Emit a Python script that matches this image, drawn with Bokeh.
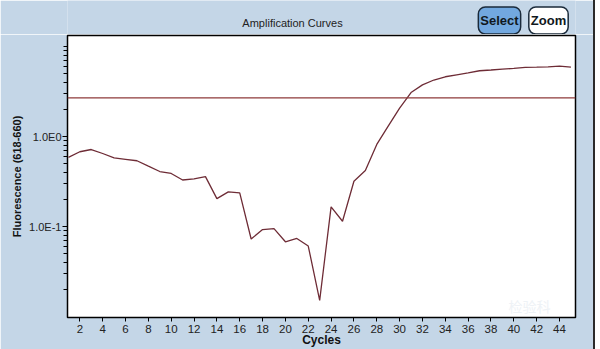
from bokeh.plotting import figure
from bokeh.layouts import column
from bokeh.models import Range1d, FixedTicker, CustomJSTickFormatter, Label, Span
from bokeh.embed import file_html
from bokeh.resources import INLINE

cycles = list(range(1, 46))
fluorescence = [0.59, 0.68, 0.72, 0.65, 0.58, 0.56, 0.54, 0.47, 0.41, 0.39,
                0.33, 0.34, 0.36, 0.205, 0.244, 0.238, 0.073, 0.093, 0.095, 0.068,
                0.074, 0.061, 0.0152, 0.166, 0.115, 0.32, 0.42, 0.82, 1.31, 2.08,
                3.09, 3.76, 4.26, 4.63, 4.87, 5.1, 5.4, 5.5, 5.63, 5.73,
                5.88, 5.92, 5.97, 6.07, 5.92]
threshold = 2.7
x_ticks = list(range(2, 45, 2))
y_major = [0.1, 1.0]
y_minor = [0.02, 0.03, 0.04, 0.05, 0.06, 0.07, 0.08, 0.09,
           0.2, 0.3, 0.4, 0.5, 0.6, 0.7, 0.8, 0.9,
           2, 3, 4, 5, 6, 7, 8, 9, 10]

BG = "#C4D6E7"
W = 595
FRAME_L, FRAME_R = 67, 575
HEAD_H = 34
MAIN_H = 315
EDGE = {"border-right": "2px solid #2a2a2a"}

# ---- header strip with title and buttons (its frame is aligned with the chart's) ----
head = figure(width=W, height=HEAD_H, x_range=Range1d(FRAME_L, FRAME_R),
              y_range=Range1d(0, HEAD_H),
              output_backend="svg", toolbar_location=None,
              min_border=0, min_border_left=FRAME_L, min_border_right=W - FRAME_R,
              min_border_top=0, min_border_bottom=0)
head.axis.visible = False
head.grid.visible = False
head.outline_line_color = None
head.background_fill_color = BG
head.border_fill_color = BG
head.styles = EDGE

def hlab(px, py, text, **kw):
    head.add_layout(Label(x=px, y=HEAD_H - py, text=text, text_align="center",
                          text_baseline="middle", **kw))

hlab(292, 22, "Amplification Curves", text_font="Liberation Sans",
     text_font_size="11px", text_color="#222222")
btn = dict(text_font="Liberation Sans", text_font_size="13px", text_font_style="bold",
           text_color="#101820", border_line_color="#1A2A3A", border_line_width=1.5,
           padding=dict(left=2, right=2, top=6, bottom=6), border_radius=7)
hlab(499, 20, "Select", background_fill_color="#72A8DF", **btn)
hlab(548, 20, "Zoom", background_fill_color="white", **btn)

# ---- main chart ----
p = figure(width=W, height=MAIN_H, y_axis_type="log",
           x_range=Range1d(0.92, 45.4), y_range=Range1d(0.0098, 13.3),
           output_backend="svg", toolbar_location=None,
           min_border_left=FRAME_L, min_border_right=W - FRAME_R,
           min_border_top=1, min_border_bottom=29)
p.styles = EDGE
p.border_fill_color = BG
p.background_fill_color = "white"
p.outline_line_color = "black"
p.outline_line_width = 1.5
p.grid.visible = False

p.xaxis.ticker = FixedTicker(ticks=x_ticks)
p.xaxis.major_tick_out = 4
p.xaxis.major_tick_in = 0
p.xaxis.minor_tick_out = 0
p.xaxis.axis_line_color = None
p.xaxis.major_label_standoff = 3
p.xaxis.major_label_text_font = "Liberation Sans"
p.xaxis.major_label_text_font_size = "11.5px"
p.xaxis.major_label_text_color = "#222222"
p.xaxis.axis_label = "Cycles"
p.xaxis.axis_label_standoff = -3
p.xaxis.axis_label_text_font = "Liberation Sans"
p.xaxis.axis_label_text_font_size = "12px"
p.xaxis.axis_label_text_font_style = "bold"
p.xaxis.axis_label_text_color = "#111111"

p.yaxis.ticker = FixedTicker(ticks=y_major, minor_ticks=y_minor)
p.yaxis.formatter = CustomJSTickFormatter(code="return '1.0E' + Math.round(Math.log10(tick));")
p.yaxis.major_tick_out = 5
p.yaxis.major_tick_in = 0
p.yaxis.minor_tick_out = 4
p.yaxis.minor_tick_in = 0
p.yaxis.axis_line_color = None
p.yaxis.major_label_standoff = 1
p.yaxis.major_label_text_font = "Liberation Sans"
p.yaxis.major_label_text_font_size = "11px"
p.yaxis.major_label_text_color = "#222222"
p.yaxis.axis_label = "Fluorescence (618-660)"
p.yaxis.axis_label_standoff = 3
p.yaxis.axis_label_text_font = "Liberation Sans"
p.yaxis.axis_label_text_font_size = "11px"
p.yaxis.axis_label_text_font_style = "bold"
p.yaxis.axis_label_text_color = "#111111"

p.add_layout(Span(location=threshold, dimension="width",
                  line_color="#8E3A3A", line_width=1.3))
p.line(cycles, fluorescence, line_color="#6E2C36", line_width=1.3)

p.add_layout(Label(x=462, y=2, x_units="screen", y_units="screen", text="检验科",
                   text_font="Noto Sans CJK SC", text_font_size="14px",
                   text_color="#eef2f6", text_align="center", text_baseline="bottom"))

layout = column(head, p, spacing=0)
open("out.html", "w").write(file_html(layout, INLINE))
